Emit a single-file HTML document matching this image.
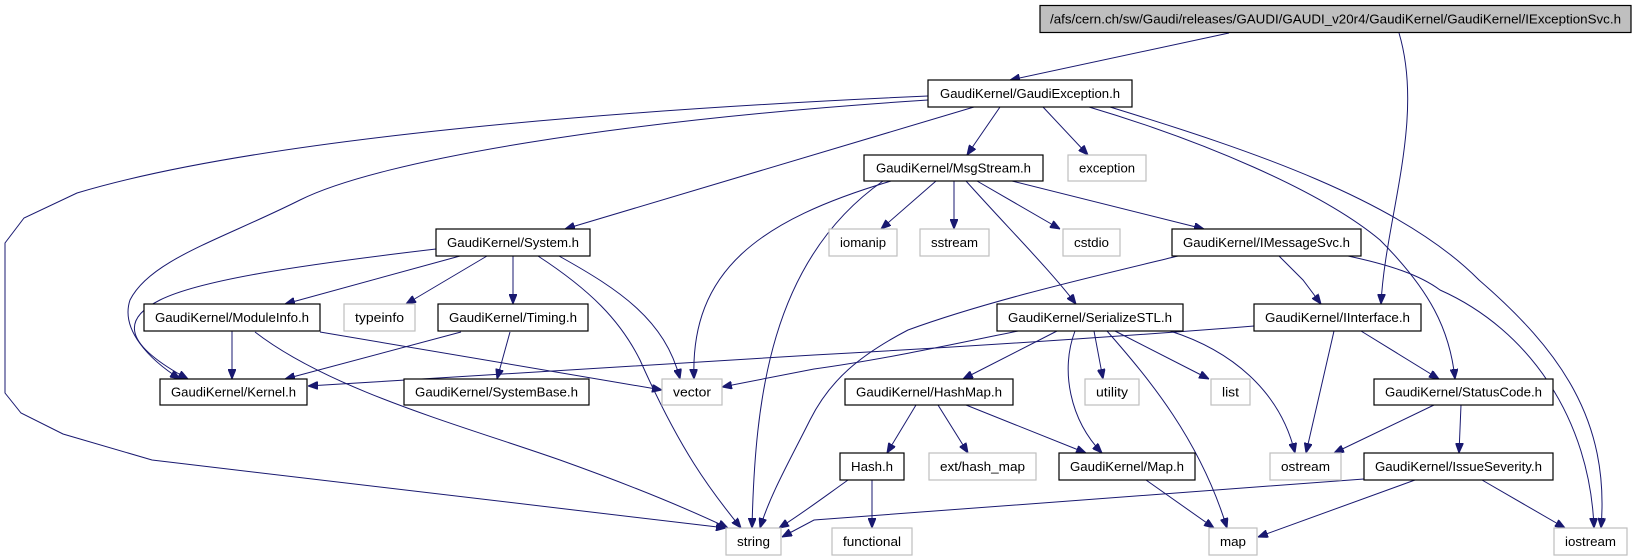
<!DOCTYPE html>
<html><head><meta charset="utf-8"><style>
html,body{margin:0;padding:0;background:#fff;}
svg{display:block;}
text{font-family:"Liberation Sans",sans-serif;font-size:12.5px;fill:#000;}
.e{fill:none;stroke:#191970;stroke-width:1;marker-end:url(#a);}
.n{fill:#fff;stroke:#000;stroke-width:1.2;}
.g{fill:#fff;stroke:#bfbfbf;stroke-width:1.2;}
</style></head><body>
<svg width="1634" height="560" viewBox="0 0 1634 560" xmlns="http://www.w3.org/2000/svg">
<defs><marker id="a" markerWidth="10" markerHeight="8" refX="10" refY="4" orient="auto" markerUnits="userSpaceOnUse"><path d="M0,0 L10,4 L0,8 Z" fill="#191970" stroke="#191970"/></marker></defs>

<!-- edges -->
<path class="e" d="M1229,33 L1010,80"/>
<path class="e" d="M1399,33 C1425,120 1385,220 1381,304"/>
<path class="e" d="M974,107 L565,229"/>
<path class="e" d="M1000,107 L967,155"/>
<path class="e" d="M1043,107 L1088,155"/>
<path class="e" d="M928,100 C620,120 380,160 300,200 C220,240 150,260 130,300 C120,330 150,360 180,379"/>
<path class="e" d="M928,96 C500,115 220,150 77,193 L24,218 L5,243 L5,393 L21,413 L63,434 L152,460 L726,528"/>
<path class="e" d="M1089,107 C1200,140 1320,190 1380,240 C1430,290 1450,330 1455,379"/>
<path class="e" d="M1110,107 C1250,150 1400,200 1479,280 C1560,350 1610,420 1601,528"/>
<path class="e" d="M1348,256 C1390,265 1420,275 1440,290 C1530,330 1590,420 1594,528"/>
<path class="e" d="M891,181 C760,220 690,270 694,379"/>
<path class="e" d="M883,181 C770,260 755,400 752,528"/>
<path class="e" d="M936,181 L881,229"/>
<path class="e" d="M954,181 L954,229"/>
<path class="e" d="M977,181 L1060,229"/>
<path class="e" d="M1012,181 L1204,229"/>
<path class="e" d="M966,181 C1010,230 1050,270 1076,304"/>
<path class="e" d="M436,249 C300,265 200,280 160,300 C120,320 125,345 188,379"/>
<path class="e" d="M460,256 L285,304"/>
<path class="e" d="M487,256 L406,304"/>
<path class="e" d="M513,256 L513,304"/>
<path class="e" d="M538,256 C590,290 620,320 640,360 C680,450 710,490 741,528"/>
<path class="e" d="M559,256 C620,290 665,320 680,379"/>
<path class="e" d="M232,331 L232,379"/>
<path class="e" d="M255,332 C330,390 460,425 560,460 C630,485 690,510 728,528"/>
<path class="e" d="M320,332 L662,390"/>
<path class="e" d="M461,332 L285,379"/>
<path class="e" d="M510,332 L497,379"/>
<path class="e" d="M1254,326 C1180,332 1000,345 814,355 L308,386"/>
<path class="e" d="M1018,331 C950,345 880,360 814,369 L722,387"/>
<path class="e" d="M1334,331 L1306,453"/>
<path class="e" d="M1361,331 L1439,379"/>
<path class="e" d="M1279,256 L1303,280 L1321,304"/>
<path class="e" d="M1178,256 C1100,275 990,300 908,330 C860,355 830,380 810,420 C790,460 770,495 760,528"/>
<path class="e" d="M1057,331 L963,379"/>
<path class="e" d="M1094,331 L1103,379"/>
<path class="e" d="M1115,331 L1209,379"/>
<path class="e" d="M1075,331 C1060,370 1070,420 1102,453"/>
<path class="e" d="M1107,331 C1150,380 1200,440 1227,528"/>
<path class="e" d="M1170,331 C1230,350 1280,390 1295,453"/>
<path class="e" d="M916,405 L887,453"/>
<path class="e" d="M938,405 L968,453"/>
<path class="e" d="M966,405 L1086,453"/>
<path class="e" d="M872,480 L872,528"/>
<path class="e" d="M848,480 C820,500 800,515 779,528"/>
<path class="e" d="M1434,405 L1334,453"/>
<path class="e" d="M1461,405 L1459,453"/>
<path class="e" d="M1364,479 L814,520 L782,537"/>
<path class="e" d="M1415,480 L1258,537"/>
<path class="e" d="M1482,480 L1565,528"/>
<path class="e" d="M1146,480 L1214,528"/>

<!-- nodes -->
<rect x="1040" y="5.5" width="591" height="27" fill="#bfbfbf" stroke="#000" stroke-width="1.2"/>
<text x="1335.5" y="23.5" text-anchor="middle" textLength="571" lengthAdjust="spacingAndGlyphs">/afs/cern.ch/sw/Gaudi/releases/GAUDI/GAUDI_v20r4/GaudiKernel/GaudiKernel/IExceptionSvc.h</text>

<rect class="n" x="928" y="80" width="204" height="27"/><text x="1030" y="98" text-anchor="middle" textLength="180" lengthAdjust="spacingAndGlyphs">GaudiKernel/GaudiException.h</text>
<rect class="n" x="864" y="155" width="179" height="26"/><text x="953.5" y="172.5" text-anchor="middle" textLength="155" lengthAdjust="spacingAndGlyphs">GaudiKernel/MsgStream.h</text>
<rect class="g" x="1068" y="155" width="78" height="26"/><text x="1107" y="172.5" text-anchor="middle" textLength="56" lengthAdjust="spacingAndGlyphs">exception</text>

<rect class="n" x="436" y="229" width="154" height="27"/><text x="513" y="247" text-anchor="middle" textLength="132" lengthAdjust="spacingAndGlyphs">GaudiKernel/System.h</text>
<rect class="g" x="829" y="229" width="68" height="27"/><text x="863" y="247" text-anchor="middle" textLength="46" lengthAdjust="spacingAndGlyphs">iomanip</text>
<rect class="g" x="920" y="229" width="69" height="27"/><text x="954.5" y="247" text-anchor="middle" textLength="47" lengthAdjust="spacingAndGlyphs">sstream</text>
<rect class="g" x="1063" y="229" width="57" height="27"/><text x="1091.5" y="247" text-anchor="middle" textLength="35" lengthAdjust="spacingAndGlyphs">cstdio</text>
<rect class="n" x="1172" y="229" width="189" height="27"/><text x="1266.5" y="247" text-anchor="middle" textLength="167" lengthAdjust="spacingAndGlyphs">GaudiKernel/IMessageSvc.h</text>

<rect class="n" x="144" y="304" width="176" height="27"/><text x="232" y="322" text-anchor="middle" textLength="154" lengthAdjust="spacingAndGlyphs">GaudiKernel/ModuleInfo.h</text>
<rect class="g" x="344" y="304" width="71" height="27"/><text x="379.5" y="322" text-anchor="middle" textLength="49" lengthAdjust="spacingAndGlyphs">typeinfo</text>
<rect class="n" x="438" y="304" width="150" height="27"/><text x="513" y="322" text-anchor="middle" textLength="128" lengthAdjust="spacingAndGlyphs">GaudiKernel/Timing.h</text>
<rect class="n" x="997" y="304" width="186" height="27"/><text x="1090" y="322" text-anchor="middle" textLength="164" lengthAdjust="spacingAndGlyphs">GaudiKernel/SerializeSTL.h</text>
<rect class="n" x="1254" y="304" width="167" height="27"/><text x="1337.5" y="322" text-anchor="middle" textLength="145" lengthAdjust="spacingAndGlyphs">GaudiKernel/IInterface.h</text>

<rect class="n" x="160" y="379" width="147" height="26"/><text x="233.5" y="396.5" text-anchor="middle" textLength="125" lengthAdjust="spacingAndGlyphs">GaudiKernel/Kernel.h</text>
<rect class="n" x="404" y="379" width="185" height="26"/><text x="496.5" y="396.5" text-anchor="middle" textLength="163" lengthAdjust="spacingAndGlyphs">GaudiKernel/SystemBase.h</text>
<rect class="g" x="662" y="379" width="60" height="26"/><text x="692" y="396.5" text-anchor="middle" textLength="38" lengthAdjust="spacingAndGlyphs">vector</text>
<rect class="n" x="845" y="379" width="168" height="26"/><text x="929" y="396.5" text-anchor="middle" textLength="146" lengthAdjust="spacingAndGlyphs">GaudiKernel/HashMap.h</text>
<rect class="g" x="1085" y="379" width="54" height="26"/><text x="1112" y="396.5" text-anchor="middle" textLength="32" lengthAdjust="spacingAndGlyphs">utility</text>
<rect class="g" x="1211" y="379" width="39" height="26"/><text x="1230.5" y="396.5" text-anchor="middle" textLength="17" lengthAdjust="spacingAndGlyphs">list</text>
<rect class="n" x="1374" y="379" width="179" height="26"/><text x="1463.5" y="396.5" text-anchor="middle" textLength="157" lengthAdjust="spacingAndGlyphs">GaudiKernel/StatusCode.h</text>

<rect class="n" x="840" y="453" width="64" height="27"/><text x="872" y="471" text-anchor="middle" textLength="42" lengthAdjust="spacingAndGlyphs">Hash.h</text>
<rect class="g" x="929" y="453" width="107" height="27"/><text x="982.5" y="471" text-anchor="middle" textLength="85" lengthAdjust="spacingAndGlyphs">ext/hash_map</text>
<rect class="n" x="1059" y="453" width="136" height="27"/><text x="1127" y="471" text-anchor="middle" textLength="114" lengthAdjust="spacingAndGlyphs">GaudiKernel/Map.h</text>
<rect class="g" x="1270" y="453" width="71" height="27"/><text x="1305.5" y="471" text-anchor="middle" textLength="49" lengthAdjust="spacingAndGlyphs">ostream</text>
<rect class="n" x="1364" y="453" width="189" height="27"/><text x="1458.5" y="471" text-anchor="middle" textLength="167" lengthAdjust="spacingAndGlyphs">GaudiKernel/IssueSeverity.h</text>

<rect class="g" x="726" y="528" width="55" height="27"/><text x="753.5" y="546" text-anchor="middle" textLength="33" lengthAdjust="spacingAndGlyphs">string</text>
<rect class="g" x="832" y="528" width="80" height="27"/><text x="872" y="546" text-anchor="middle" textLength="58" lengthAdjust="spacingAndGlyphs">functional</text>
<rect class="g" x="1209" y="528" width="48" height="27"/><text x="1233" y="546" text-anchor="middle" textLength="26" lengthAdjust="spacingAndGlyphs">map</text>
<rect class="g" x="1554" y="528" width="73" height="27"/><text x="1590.5" y="546" text-anchor="middle" textLength="51" lengthAdjust="spacingAndGlyphs">iostream</text>
</svg>
</body></html>
